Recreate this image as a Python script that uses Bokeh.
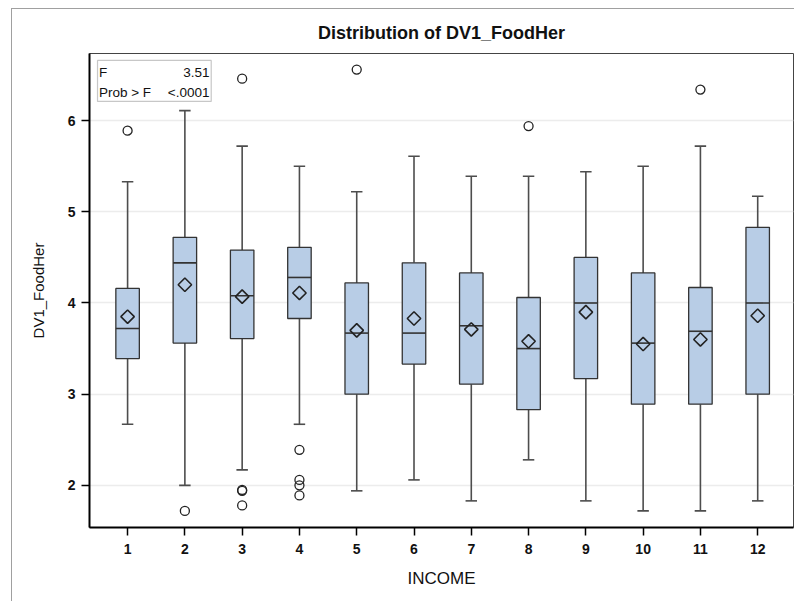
import math
from bokeh.plotting import figure
from bokeh.models import Range1d, FixedTicker, BoxAnnotation, Label
from bokeh.embed import file_html
from bokeh.resources import INLINE

# ---- data ----
income = [1, 2, 3, 4, 5, 6, 7, 8, 9, 10, 11, 12]
whisker_low = [2.67, 2.00, 2.17, 2.67, 1.94, 2.06, 1.83, 2.28, 1.83, 1.72, 1.72, 1.83]
q1 = [3.39, 3.56, 3.61, 3.83, 3.00, 3.33, 3.11, 2.83, 3.17, 2.89, 2.89, 3.00]
median = [3.72, 4.44, 4.08, 4.28, 3.67, 3.67, 3.75, 3.50, 4.00, 3.56, 3.69, 4.00]
q3 = [4.16, 4.72, 4.58, 4.61, 4.22, 4.44, 4.33, 4.06, 4.50, 4.33, 4.17, 4.83]
whisker_high = [5.33, 6.11, 5.72, 5.50, 5.22, 5.61, 5.39, 5.39, 5.44, 5.50, 5.72, 5.17]
mean = [3.85, 4.20, 4.07, 4.11, 3.70, 3.83, 3.71, 3.58, 3.90, 3.55, 3.60, 3.86]
outlier_x = [1, 2, 3, 3, 3, 3, 4, 4, 4, 4, 5, 8, 11]
outlier_y = [5.89, 1.72, 6.46, 1.95, 1.94, 1.78, 2.39, 2.06, 2.00, 1.89, 6.56, 5.94, 6.34]
y_ticks = [2, 3, 4, 5, 6]
f_value = "3.51"
p_value = "<.0001"

FONT = "Liberation Sans, Arial, sans-serif"
BOX_W = 0.41
CAP_W = 0.2

p = figure(width=783, height=593, output_backend="svg", toolbar_location=None,
           x_range=Range1d(0.335, 12.625), y_range=Range1d(1.538, 6.736),
           min_border_left=77, min_border_right=2, min_border_top=44, min_border_bottom=75)
p.margin = (8, 0, 0, 11)
p.styles = {"border-left": "1px solid #a0a0a0", "border-top": "1px solid #a0a0a0"}

p.title.text = "Distribution of DV1_FoodHer"
p.title.align = "center"
p.title.text_font = FONT
p.title.text_font_size = "18px"
p.title.text_font_style = "bold"
p.title.text_color = "#111111"
p.title.offset = 0
p.title.standoff = 22

p.background_fill_color = "white"
p.border_fill_color = "white"
p.outline_line_color = "#444444"
p.outline_line_width = 1

p.xgrid.grid_line_color = None
p.ygrid.grid_line_color = "#ececec"
p.ygrid.grid_line_width = 1.5
p.ygrid.ticker = FixedTicker(ticks=y_ticks)

p.xaxis.ticker = FixedTicker(ticks=income)
p.yaxis.ticker = FixedTicker(ticks=y_ticks)
for ax in (p.xaxis, p.yaxis):
    ax.axis_line_color = "black"
    ax.axis_line_width = 2
    ax.major_tick_line_color = "black"
    ax.major_tick_line_width = 1.5
    ax.major_tick_in = 0
    ax.major_tick_out = 8
    ax.minor_tick_line_color = None
    ax.major_label_text_font = FONT
    ax.major_label_text_font_size = "14px"
    ax.major_label_text_font_style = "bold"
    ax.major_label_text_color = "#111111"
    ax.axis_label_text_font = FONT
    ax.axis_label_text_font_style = "normal"
    ax.axis_label_text_color = "#111111"
p.xaxis.axis_label = "INCOME"
p.yaxis.axis_label = "DV1_FoodHer"
p.xaxis.axis_label_text_font_size = "17px"
p.yaxis.axis_label_text_font_size = "15px"
p.xaxis.major_label_standoff = 8
p.yaxis.major_label_standoff = 6
p.xaxis.axis_label_standoff = 12
p.yaxis.axis_label_standoff = 18

# whiskers
p.segment(x0=income, y0=whisker_low, x1=income, y1=q1, line_color="#4d4d4d", line_width=1.6)
p.segment(x0=income, y0=q3, x1=income, y1=whisker_high, line_color="#4d4d4d", line_width=1.6)
xl = [x - CAP_W / 2 for x in income]
xr = [x + CAP_W / 2 for x in income]
p.segment(x0=xl, y0=whisker_low, x1=xr, y1=whisker_low, line_color="#4d4d4d", line_width=1.6)
p.segment(x0=xl, y0=whisker_high, x1=xr, y1=whisker_high, line_color="#4d4d4d", line_width=1.6)

# boxes
p.vbar(x=income, width=BOX_W, bottom=q1, top=q3, fill_color="#b8cde6",
       line_color="#333333", line_width=1.3)
bl = [x - BOX_W / 2 for x in income]
br = [x + BOX_W / 2 for x in income]
p.segment(x0=bl, y0=median, x1=br, y1=median, line_color="#333333", line_width=1.6)

# means (hollow diamonds)
p.scatter(x=income, y=mean, marker="square", size=9.5, angle=math.pi / 4,
          fill_color=None, line_color="#222222", line_width=1.6)

# outliers
p.scatter(x=outlier_x, y=outlier_y, marker="circle", size=9, fill_color=None,
          line_color="#222222", line_width=1.3)

# statistics inset
p.add_layout(BoxAnnotation(left=0.475, right=2.46, top=6.66, bottom=6.21,
                           fill_color="white", fill_alpha=1.0,
                           line_color="#444444", line_width=1.2))
lab_kw = dict(text_font=FONT, text_font_size="13.5px", text_color="#111111",
              text_baseline="middle")
p.add_layout(Label(x=0.5, y=6.525, text="F", text_align="left", **lab_kw))
p.add_layout(Label(x=2.43, y=6.525, text=f_value, text_align="right", **lab_kw))
p.add_layout(Label(x=0.5, y=6.31, text="Prob > F", text_align="left", **lab_kw))
p.add_layout(Label(x=2.43, y=6.31, text=p_value, text_align="right", **lab_kw))

open("out.html", "w").write(file_html(p, INLINE))
